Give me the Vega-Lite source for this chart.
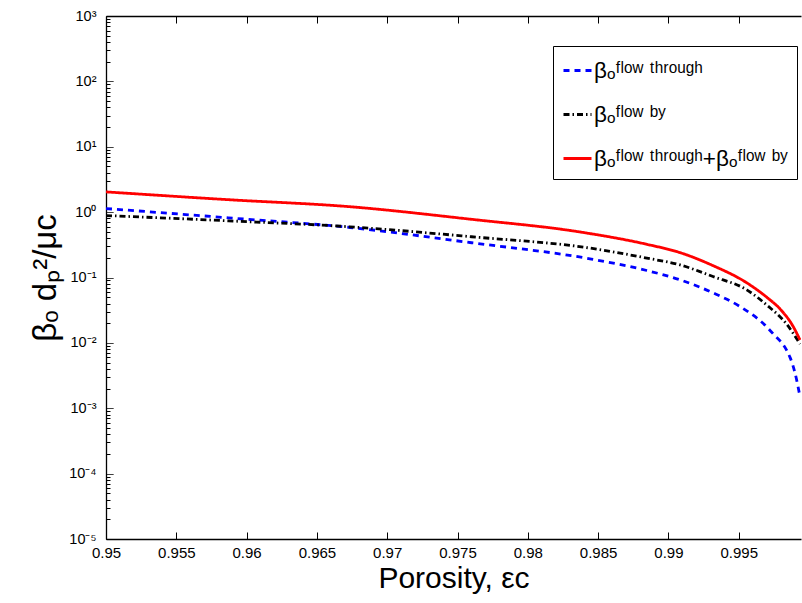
{
  "$schema": "https://vega.github.io/schema/vega-lite/v6.json",
  "width": 695,
  "height": 523,
  "autosize": "none",
  "padding": {"left": 106, "top": 16, "right": 1, "bottom": 64},
  "background": "white",
  "config": {
    "font": "Liberation Sans",
    "view": {"stroke": null},
    "axis": {"domainColor": "black", "tickColor": "black", "labelColor": "black", "titleColor": "black", "grid": false, "labelFont": "Liberation Sans", "titleFont": "Liberation Sans", "titleFontWeight": "normal", "domainWidth": 1.3, "tickWidth": 1}
  },
  "data": {"values": [
    {"x": 0.95, "beta": 1.135, "series": "through"},
    {"x": 0.9587, "beta": 0.818, "series": "through"},
    {"x": 0.96735, "beta": 0.582, "series": "through"},
    {"x": 0.976, "beta": 0.34, "series": "through"},
    {"x": 0.98442, "beta": 0.193, "series": "through"},
    {"x": 0.98846, "beta": 0.128, "series": "through"},
    {"x": 0.99083, "beta": 0.0922, "series": "through"},
    {"x": 0.99317, "beta": 0.0583, "series": "through"},
    {"x": 0.99509, "beta": 0.036, "series": "through"},
    {"x": 0.99699, "beta": 0.0176, "series": "through"},
    {"x": 0.99744, "beta": 0.0138, "series": "through"},
    {"x": 0.99844, "beta": 0.0075, "series": "through"},
    {"x": 0.99865, "beta": 0.006, "series": "through"},
    {"x": 0.999, "beta": 0.0035, "series": "through"},
    {"x": 0.99936, "beta": 0.0015, "series": "through"},
    {"x": 0.95, "beta": 0.887, "series": "by"},
    {"x": 0.9587, "beta": 0.736, "series": "by"},
    {"x": 0.96735, "beta": 0.596, "series": "by"},
    {"x": 0.976, "beta": 0.42, "series": "by"},
    {"x": 0.98442, "beta": 0.282, "series": "by"},
    {"x": 0.98846, "beta": 0.198, "series": "by"},
    {"x": 0.99083, "beta": 0.156, "series": "by"},
    {"x": 0.99317, "beta": 0.1035, "series": "by"},
    {"x": 0.99557, "beta": 0.0648, "series": "by"},
    {"x": 0.99699, "beta": 0.038, "series": "by"},
    {"x": 0.99844, "beta": 0.019, "series": "by"},
    {"x": 0.99936, "beta": 0.0096, "series": "by"},
    {"x": 0.95, "beta": 2.04, "series": "sum"},
    {"x": 0.9587, "beta": 1.55, "series": "sum"},
    {"x": 0.96735, "beta": 1.21, "series": "sum"},
    {"x": 0.976, "beta": 0.776, "series": "sum"},
    {"x": 0.98371, "beta": 0.497, "series": "sum"},
    {"x": 0.98846, "beta": 0.322, "series": "sum"},
    {"x": 0.99083, "beta": 0.24, "series": "sum"},
    {"x": 0.99317, "beta": 0.152, "series": "sum"},
    {"x": 0.99557, "beta": 0.083, "series": "sum"},
    {"x": 0.99699, "beta": 0.05, "series": "sum"},
    {"x": 0.99794, "beta": 0.033, "series": "sum"},
    {"x": 0.99886, "beta": 0.018, "series": "sum"},
    {"x": 0.99936, "beta": 0.0111, "series": "sum"}
  ]},
  "resolve": {"scale": {"x": "shared", "y": "shared"}, "axis": {"x": "independent", "y": "independent"}},
  "layer": [
    {
      "mark": {"type": "line", "interpolate": "monotone", "strokeWidth": 2.8, "clip": true},
      "encoding": {
        "x": {"field": "x", "type": "quantitative",
          "scale": {"domain": [0.95, 0.99943], "nice": false, "zero": false},
          "axis": {"orient": "bottom", "values": [0.95, 0.955, 0.96, 0.965, 0.97, 0.975, 0.98, 0.985, 0.99, 0.995], "format": "~g", "ticks": false, "labelPadding": 6, "labelFontSize": 15, "labelFlush": false, "labelOverlap": false, "title": "Porosity, εc", "titleFontSize": 30, "titlePadding": 3}},
        "y": {"field": "beta", "type": "quantitative",
          "scale": {"type": "log", "domain": [0.00001, 1000], "nice": false},
          "axis": {"orient": "left",
            "values": [0.00001, 0.0001, 0.001, 0.01, 0.1, 1, 10, 100, 1000],
            "ticks": false,
            "labelExpr": "['10⁻⁵','10⁻⁴','10⁻³','10⁻²','10⁻¹','10⁰','10¹','10²','10³'][round(log(datum.value) / LN10) + 5]",
            "labelPadding": 10, "labelFontSize": 14.5, "labelFlush": false, "labelOverlap": false, "labelBaseline": "middle",
            "title": "βₒ dₚ²/μc", "titleFontSize": 33, "titlePadding": 6}},
        "color": {"field": "series", "type": "nominal",
          "scale": {"domain": ["through", "by", "sum"], "range": ["#0000ff", "#000000", "#ff0000"]},
          "legend": {"title": null, "orient": "none", "legendX": 447, "legendY": 30,
            "labelExpr": "datum.value == 'through' ? 'βₒᶠˡᵒʷ ᵗʰʳᵒᵘᵍʰ' : datum.value == 'by' ? 'βₒᶠˡᵒʷ ᵇʸ' : 'βₒᶠˡᵒʷ ᵗʰʳᵒᵘᵍʰ+βₒᶠˡᵒʷ ᵇʸ'",
            "symbolType": "stroke", "symbolSize": 784, "symbolStrokeWidth": 2.8, "labelFontSize": 22.5, "labelOffset": 1,
            "rowPadding": 17, "padding": 9, "strokeColor": "black", "fillColor": "white", "labelLimit": 400, "labelColor": "black"}},
        "strokeDash": {"field": "series", "type": "nominal",
          "scale": {"domain": ["through", "by", "sum"], "range": [[6, 5], [6, 3, 1.5, 3], [1, 0]]},
          "legend": {"title": null, "orient": "none", "legendX": 447, "legendY": 30,
            "labelExpr": "datum.value == 'through' ? 'βₒᶠˡᵒʷ ᵗʰʳᵒᵘᵍʰ' : datum.value == 'by' ? 'βₒᶠˡᵒʷ ᵇʸ' : 'βₒᶠˡᵒʷ ᵗʰʳᵒᵘᵍʰ+βₒᶠˡᵒʷ ᵇʸ'",
            "symbolType": "stroke", "symbolSize": 784, "symbolStrokeWidth": 2.8, "labelFontSize": 22.5, "labelOffset": 1,
            "rowPadding": 17, "padding": 9, "strokeColor": "black", "fillColor": "white", "labelLimit": 400, "labelColor": "black"}}
      }
    },
    {
      "mark": {"type": "point", "opacity": 0},
      "encoding": {
        "x": {"field": "x", "type": "quantitative",
          "axis": {"orient": "bottom", "offset": -7, "values": [0.95, 0.955, 0.96, 0.965, 0.97, 0.975, 0.98, 0.985, 0.99, 0.995], "domain": false, "tickSize": 7, "labels": false, "title": null}},
        "y": {"field": "beta", "type": "quantitative",
          "axis": {"orient": "left", "offset": -7,
            "values": [0.00001, 0.00002, 0.00003, 0.00004, 0.00005, 0.00006, 0.00007, 0.00008, 0.00009,
                       0.0001, 0.0002, 0.0003, 0.0004, 0.0005, 0.0006, 0.0007, 0.0008, 0.0009,
                       0.001, 0.002, 0.003, 0.004, 0.005, 0.006, 0.007, 0.008, 0.009,
                       0.01, 0.02, 0.03, 0.04, 0.05, 0.06, 0.07, 0.08, 0.09,
                       0.1, 0.2, 0.3, 0.4, 0.5, 0.6, 0.7, 0.8, 0.9,
                       1, 2, 3, 4, 5, 6, 7, 8, 9,
                       10, 20, 30, 40, 50, 60, 70, 80, 90,
                       100, 200, 300, 400, 500, 600, 700, 800, 900, 1000],
            "domain": false, "labels": false, "title": null, "tickSize": 7,
            "tickDash": {"condition": {"test": "abs(datum.value / pow(10, round(log(datum.value) / LN10)) - 1) > 0.001", "value": [0, 3, 4, 40]}, "value": [1, 0]}}}
      }
    },
    {
      "mark": {"type": "point", "opacity": 0},
      "encoding": {
        "x": {"field": "x", "type": "quantitative",
          "axis": {"orient": "top", "offset": -7, "values": [0.95, 0.955, 0.96, 0.965, 0.97, 0.975, 0.98, 0.985, 0.99, 0.995], "domain": false, "tickSize": 7, "labels": false, "title": null}},
        "y": {"field": "beta", "type": "quantitative", "axis": null}
      }
    },
    {
      "mark": {"type": "point", "opacity": 0},
      "encoding": {
        "x": {"field": "x", "type": "quantitative",
          "axis": {"orient": "top", "domain": true, "ticks": false, "labels": false, "title": null}},
        "y": {"field": "beta", "type": "quantitative", "axis": null}
      }
    }
  ]
}
